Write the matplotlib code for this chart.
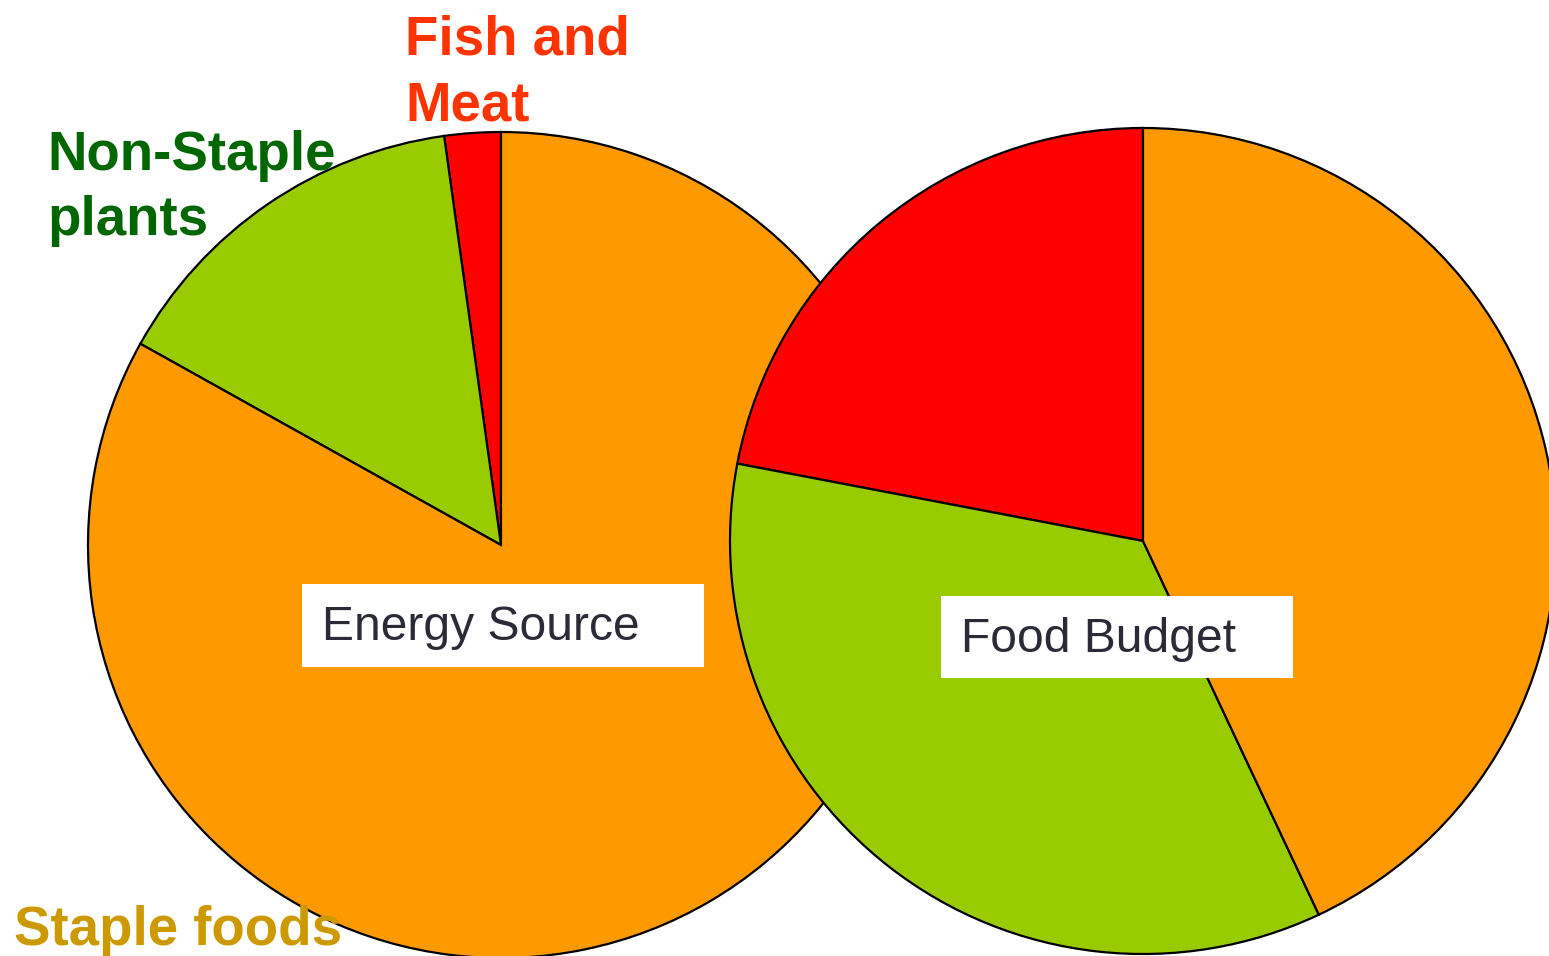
import matplotlib
matplotlib.use("Agg")
import matplotlib.pyplot as plt
from matplotlib.patches import Rectangle

# Data (counterclockwise from 12 o'clock: Fish and Meat, Non-Staple plants, Staple foods)
categories = ["Fish and Meat", "Non-Staple plants", "Staple foods"]
energy_source = [2.2, 14.7, 83.1]
food_budget = [22.0, 35.0, 43.0]
pie_titles = ["Energy Source", "Food Budget"]
slice_colors = ["#FF0000", "#99CC00", "#FF9900"]
label_colors = ["#FF3300", "#006600", "#CC9900"]

W, H = 1549, 956
fig = plt.figure(figsize=(W / 100, H / 100), dpi=100)
ax = fig.add_axes([0, 0, 1, 1])

wp = dict(edgecolor="black", linewidth=1.6)
R = 413
ax.pie(energy_source, colors=slice_colors, startangle=90, counterclock=True,
       center=(501, H - 545), radius=R, wedgeprops=wp)
ax.pie(food_budget, colors=slice_colors, startangle=90, counterclock=True,
       center=(1143, H - 541), radius=R, wedgeprops=wp)

ax.set_xlim(0, W)
ax.set_ylim(0, H)
ax.set_aspect("equal")
ax.axis("off")

# Title boxes
boxes = [(302, 584, 704, 667), (941, 596, 1293, 678)]
baselines = [640, 652]
for title, (x0, y0, x1, y1), yb in zip(pie_titles, boxes, baselines):
    ax.add_patch(Rectangle((x0, H - y1), x1 - x0, y1 - y0, facecolor="white",
                           edgecolor="none", zorder=5))
    ax.text(x0 + 20, H - yb, title, fontsize=34.6, color="#2B2B38",
            family="Liberation Sans", ha="left", va="baseline", zorder=6)

# Category labels (y = baseline of last line)
label_texts = ["Fish and\nMeat", "Non-Staple\nplants", "Staple foods"]
label_pos = [(405, 120), (47, 235), (14, 945)]
for txt, col, (x, y) in zip(label_texts, label_colors, label_pos):
    ax.text(x, H - y, txt, fontsize=39.3, fontweight="bold", color=col,
            family="Liberation Sans", ha="left", va="baseline",
            linespacing=1.33, zorder=7)

fig.savefig("out.png", dpi=100)
